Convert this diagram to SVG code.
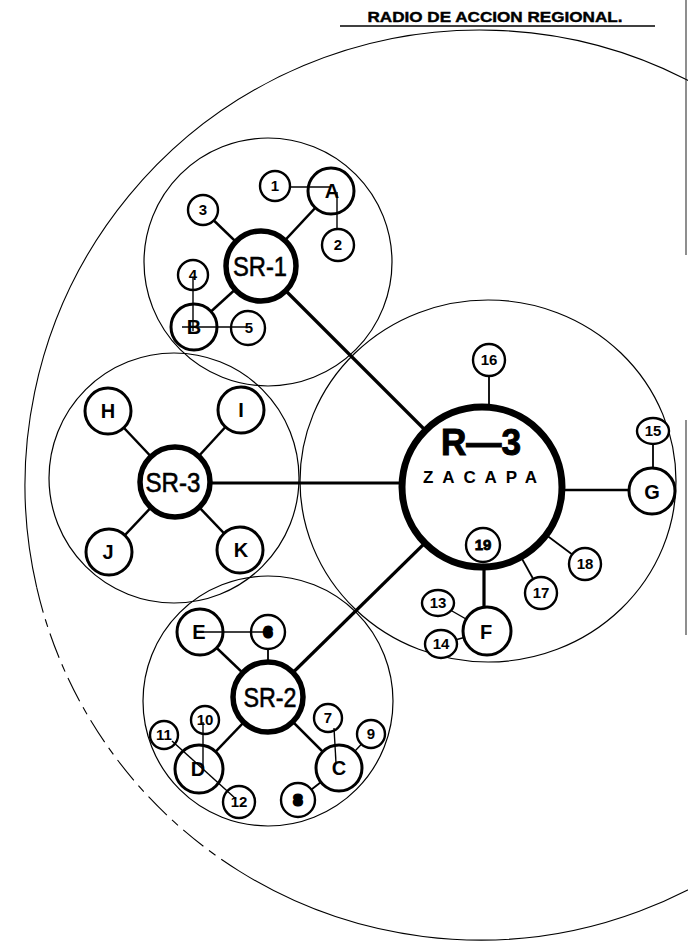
<svg xmlns="http://www.w3.org/2000/svg" width="688" height="941" viewBox="0 0 688 941">
<style>
.clu{fill:none;stroke:#000;stroke-width:1.2}
.outer{fill:none;stroke:#000;stroke-width:1.1}
.dash{fill:none;stroke:#000;stroke-width:1.1;stroke-dasharray:26 7 8 7}
.edge{stroke:#444;stroke-width:1.2}
.big{fill:#fff;stroke:#000;stroke-width:7}
.sr{fill:#fff;stroke:#000;stroke-width:5.5}
.let{fill:#fff;stroke:#000;stroke-width:3}
.num{fill:#fff;stroke:#000;stroke-width:2.4}
.c1{stroke:#000;stroke-width:3.2;fill:none}
.c2{stroke:#000;stroke-width:2.5;fill:none}
.c3{stroke:#000;stroke-width:1.8;fill:none}
.c4{stroke:#000;stroke-width:1.4;fill:none}
text{font-family:"Liberation Sans",Arial,sans-serif;fill:#000;text-anchor:middle}
.tl{font-size:20px;font-weight:bold}
.tn{font-size:15px;font-weight:bold}
.ts{font-size:28px;stroke:#000;stroke-width:0.6}
.blob{stroke:#000;stroke-width:3}
</style>

<g id="title">
<text x="495" y="22" font-size="14" font-weight="bold" stroke="#000" stroke-width="0.4" textLength="255" lengthAdjust="spacingAndGlyphs">RADIO DE ACCION REGIONAL.</text>
<line x1="340" y1="26" x2="655" y2="26" stroke="#000" stroke-width="1.4"/>
</g>

<g id="frame">
<line class="edge" x1="686" y1="0" x2="686" y2="255"/>
<line class="edge" x1="686" y1="420" x2="686" y2="635"/>
<path class="outer" d="M238.9,870.9 A455,455 0 1 0 36.7,587.4"/>
<path class="dash" d="M36.7,587.4 A455,455 0 0 0 238.9,870.9"/>
</g>

<g id="clusters">
<circle id="cluster-sr1" class="clu" cx="268" cy="262" r="124"/>
<circle id="cluster-sr3" class="clu" cx="174" cy="478" r="125"/>
<circle id="cluster-sr2" class="clu" cx="268" cy="701" r="125"/>
<ellipse id="cluster-r3" class="clu" cx="488" cy="481" rx="188" ry="181"/>
</g>

<g id="connectors">
<line class="c1" x1="261" y1="266" x2="482" y2="487"/>
<line class="c1" x1="175" y1="483" x2="482" y2="483"/>
<line class="c1" x1="268" y1="697" x2="482" y2="487"/>
<line class="c2" x1="261" y1="266" x2="331" y2="191"/>
<line class="c2" x1="261" y1="266" x2="203" y2="210"/>
<line class="c2" x1="261" y1="266" x2="194" y2="327"/>
<line class="c2" x1="175" y1="482" x2="108" y2="411"/>
<line class="c2" x1="175" y1="482" x2="241" y2="410"/>
<line class="c2" x1="175" y1="482" x2="109" y2="552"/>
<line class="c2" x1="175" y1="482" x2="240" y2="550"/>
<line class="c3" x1="489" y1="360" x2="489" y2="487"/>
<line class="c2" x1="482" y1="490" x2="652" y2="490"/>
<line class="c3" x1="653" y1="431" x2="653" y2="491"/>
<line class="c1" x1="484" y1="545" x2="484" y2="631"/>
<line class="c4" x1="438" y1="603" x2="487" y2="631"/>
<line class="c4" x1="441" y1="644" x2="487" y2="631"/>
<line class="c3" x1="482" y1="487" x2="541" y2="593"/>
<line class="c3" x1="482" y1="487" x2="585" y2="564"/>
<line class="c2" x1="268" y1="697" x2="200" y2="632"/>
<line class="c2" x1="268" y1="697" x2="199" y2="769"/>
<line class="c2" x1="268" y1="697" x2="339" y2="768"/>
<line class="c3" x1="268" y1="632" x2="268" y2="697"/>
<line class="c4" x1="339" y1="768" x2="371" y2="734"/>
<line class="c3" x1="298" y1="800" x2="339" y2="768"/>
</g>

<g id="node-R3"><circle class="big" cx="482" cy="487" r="80"/>
<text x="481" y="455" font-size="36" font-weight="bold" stroke="#000" stroke-width="1" textLength="80" lengthAdjust="spacingAndGlyphs">R—3</text>
<text x="480" y="483" font-size="17" font-weight="bold" textLength="114" lengthAdjust="spacing">ZACAPA</text></g>
<g id="node-SR1"><circle class="sr" cx="261" cy="266" r="35"/><text class="ts" x="260" y="276" textLength="54" lengthAdjust="spacingAndGlyphs">SR-1</text></g>
<g id="node-SR3"><circle class="sr" cx="175" cy="482" r="35"/><text class="ts" x="173" y="492" textLength="55" lengthAdjust="spacingAndGlyphs">SR-3</text></g>
<g id="node-SR2"><circle class="sr" cx="268" cy="697" r="35"/><text class="ts" x="270" y="707" textLength="53" lengthAdjust="spacingAndGlyphs">SR-2</text></g>

<g id="node-A"><circle class="let" cx="331" cy="191" r="23"/><text class="tl" x="332" y="198">A</text></g>
<g id="node-1"><circle class="num" cx="275" cy="186" r="15"/><text class="tn" x="275" y="191">1</text></g>
<g id="node-2"><circle class="num" cx="338" cy="245" r="16"/><text class="tn" x="338" y="250">2</text></g>
<g id="node-3"><circle class="num" cx="203" cy="210" r="15"/><text class="tn" x="203" y="215">3</text></g>
<g id="node-4"><circle class="num" cx="193" cy="275" r="15"/><text class="tn" x="193" y="280">4</text></g>
<g id="node-B"><circle class="let" cx="194" cy="327" r="23"/><text class="tl" x="194" y="334">B</text></g>
<g id="node-5"><circle class="num" cx="248" cy="328" r="17"/><text class="tn" x="249" y="333">5</text></g>

<g id="node-H"><circle class="let" cx="108" cy="411" r="23"/><text class="tl" x="108" y="418">H</text></g>
<g id="node-I"><circle class="let" cx="241" cy="410" r="23"/><text class="tl" x="241" y="417">I</text></g>
<g id="node-J"><circle class="let" cx="109" cy="552" r="23"/><text class="tl" x="108" y="559">J</text></g>
<g id="node-K"><circle class="let" cx="240" cy="550" r="23"/><text class="tl" x="241" y="557">K</text></g>

<g id="node-16"><circle class="num" cx="489" cy="360" r="16"/><text class="tn" x="489" y="365">16</text></g>
<g id="node-G"><circle class="let" cx="652" cy="491" r="23"/><text class="tl" x="652" y="499" font-size="22">G</text></g>
<g id="node-15"><ellipse class="num" cx="653" cy="431" rx="16" ry="13"/><text class="tn" x="653" y="436">15</text></g>
<g id="node-19"><circle class="num" cx="483" cy="545" r="17"/><text class="tn" x="483" y="550" stroke="#000" stroke-width="0.8">19</text></g>
<g id="node-F"><circle class="let" cx="487" cy="631" r="24"/><text class="tl" x="486" y="639" font-size="22">F</text></g>
<g id="node-13"><ellipse class="num" cx="438" cy="603" rx="16" ry="13"/><text class="tn" x="438" y="608">13</text></g>
<g id="node-14"><ellipse class="num" cx="441" cy="644" rx="16" ry="14"/><text class="tn" x="441" y="649">14</text></g>
<g id="node-17"><circle class="num" cx="541" cy="593" r="16"/><text class="tn" x="541" y="598">17</text></g>
<g id="node-18"><circle class="num" cx="585" cy="564" r="16"/><text class="tn" x="585" y="569">18</text></g>

<g id="node-E"><circle class="let" cx="200" cy="632" r="23"/><text class="tl" x="199" y="639">E</text></g>
<g id="node-6"><circle class="num" cx="268" cy="632" r="17"/><text class="tn blob" x="268" y="637">6</text></g>
<g id="node-D"><circle class="let" cx="199" cy="769" r="24"/><text class="tl" x="198" y="776">D</text></g>
<g id="node-10"><circle class="num" cx="205" cy="720" r="14"/><text class="tn" x="205" y="725">10</text></g>
<g id="node-11"><circle class="num" cx="164" cy="735" r="14"/><text class="tn" x="164" y="740">11</text></g>
<g id="node-12"><circle class="num" cx="239" cy="802" r="16"/><text class="tn" x="239" y="807">12</text></g>
<g id="node-C"><circle class="let" cx="339" cy="768" r="23"/><text class="tl" x="339" y="775">C</text></g>
<g id="node-7"><circle class="num" cx="328" cy="718" r="14"/><text class="tn" x="328" y="723">7</text></g>
<g id="node-9"><circle class="num" cx="371" cy="734" r="14"/><text class="tn" x="371" y="739">9</text></g>
<g id="node-8"><circle class="num" cx="298" cy="800" r="17"/><text class="tn blob" x="298" y="805">8</text></g>

<g id="connectors-inner">
<line class="c4" x1="290" y1="187" x2="331" y2="187"/>
<line class="c4" x1="337" y1="192" x2="337" y2="229"/>
<line class="c4" x1="193" y1="278" x2="193" y2="331"/>
<line class="c4" x1="182" y1="327" x2="247" y2="327"/>
<line class="c4" x1="198" y1="632" x2="266" y2="632"/>
<line class="c4" x1="203" y1="722" x2="203" y2="767"/>
<line class="c4" x1="172" y1="741" x2="236" y2="799"/>
<line class="c4" x1="334" y1="728" x2="336" y2="763"/>
</g>
</svg>
